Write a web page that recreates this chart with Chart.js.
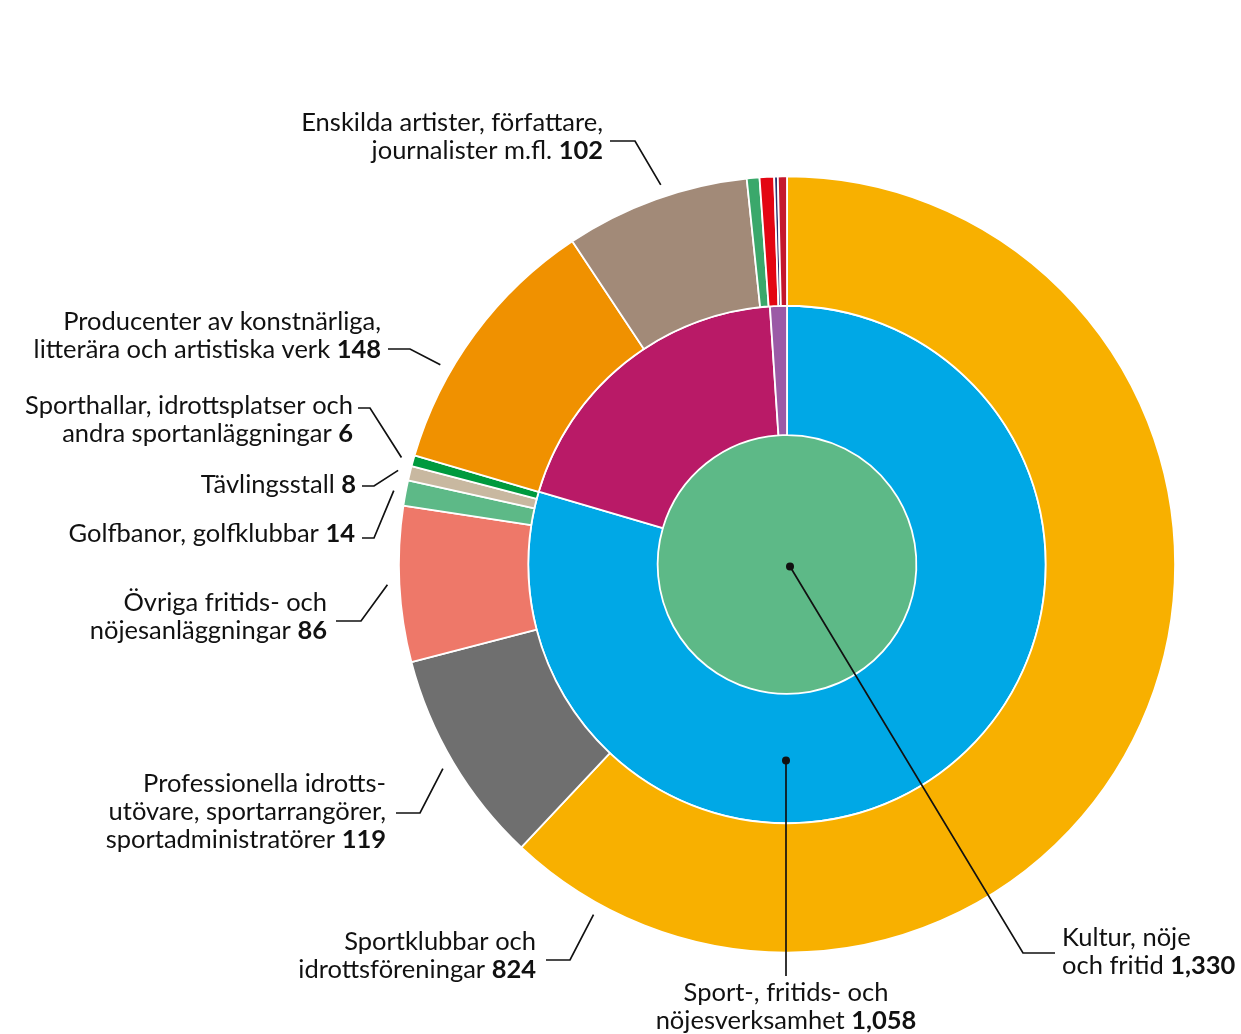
<!DOCTYPE html>
<html>
<head>
<meta charset="utf-8">
<script src="https://cdn.jsdelivr.net/npm/chart.js@4.4.1/dist/chart.umd.min.js"></script>
<style>
  html, body { margin: 0; padding: 0; background: #ffffff; }
  #wrap { width: 1241px; height: 1034px; position: relative; }
</style>
</head>
<body>
<div id="wrap"><canvas id="myChart" width="1241" height="1034"></canvas></div>
<script>
// outer ring: detailed branches
var outerLabels = ['Sportklubbar och idrottsföreningar', 'Professionella idrottsutövare, sportarrangörer, sportadministratörer',
  'Övriga fritids- och nöjesanläggningar', 'Golfbanor, golfklubbar', 'Tävlingsstall',
  'Sporthallar, idrottsplatser och andra sportanläggningar', 'Producenter av konstnärliga, litterära och artistiska verk',
  'Enskilda artister, författare, journalister m.fl.', 'Övrigt 1', 'Övrigt 2', 'Övrigt 3', 'Övrigt 4'];
var outerValues = [824, 119, 86, 14, 8, 6, 148, 102, 7, 8, 2, 5];
var outerColors = ['#f8b000', '#6f6f6f', '#ee7869', '#5db987', '#c8b8a0', '#009a3e', '#f09100',
  '#a28a78', '#3aa86b', '#e30613', '#2a3470', '#c4172c'];

// middle ring
var middleLabels = ['Sport-, fritids- och nöjesverksamhet', 'Kultur', 'Övrigt'];
var middleValues = [1058, 258, 14];
var middleColors = ['#00a8e6', '#b91a67', '#9b5aa6'];

// centre
var innerLabels = ['Kultur, nöje och fritid'];
var innerValues = [1330];
var innerColors = ['#5db987'];

var FONT = 'Lato, "Noto Sans", sans-serif';
var FS = 25.5;
var LH = 28;

// label boxes: ring (0 outer, 1 middle, 2 centre), slice, where on the slice the line ends
var notes = [
  { ring: 0, i: 7, frac: 0.55, lines: ['Enskilda artister, författare,', 'journalister m.fl.'], value: 102,
    align: 'right', x: 603, y: 131, hy: 141, hx: [610, 635] },
  { ring: 0, i: 6, frac: 0.34, lines: ['Producenter av konstnärliga,', 'litterära och artistiska verk'], value: 148,
    align: 'right', x: 381, y: 330, hy: 349, hx: [388, 410] },
  { ring: 0, i: 5, frac: 0.5, lines: ['Sporthallar, idrottsplatser och', 'andra sportanläggningar'], value: 6,
    align: 'right', x: 353, y: 414, hy: 408, hx: [358, 370] },
  { ring: 0, i: 4, frac: 0.5, lines: ['Tävlingsstall'], value: 8,
    align: 'right', x: 356, y: 493, hy: 486, hx: [362, 374] },
  { ring: 0, i: 3, frac: 0.5, lines: ['Golfbanor, golfklubbar'], value: 14,
    align: 'right', x: 355, y: 542, hy: 538, hx: [362, 374] },
  { ring: 0, i: 2, frac: 0.5, lines: ['Övriga fritids- och', 'nöjesanläggningar'], value: 86,
    align: 'right', x: 327, y: 611, hy: 621, hx: [336, 361] },
  { ring: 0, i: 1, frac: 0.5, lines: ['Professionella idrotts-', 'utövare, sportarrangörer,', 'sportadministratörer'], value: 119,
    align: 'right', x: 386, y: 792, hy: 813, hx: [396, 420] },
  { ring: 0, i: 0, frac: 0.936, lines: ['Sportklubbar och', 'idrottsföreningar'], value: 824,
    align: 'right', x: 536, y: 950, hy: 960, hx: [546, 570] },
  { ring: 1, i: 0, dot: 'below', lines: ['Sport-, fritids- och', 'nöjesverksamhet'], value: 1058,
    align: 'center', x: 786, y: 1001, hy: 976 },
  { ring: 2, i: 0, dot: 'centre', lines: ['Kultur, nöje', 'och fritid'], value: 1330,
    align: 'left', x: 1062, y: 946, hy: 953, hx: [1055, 1023] }
];

function drawNote(ctx, n, lastBold) {
  for (var k = 0; k < n.lines.length; k++) {
    var y = n.y + k * LH;
    var txt = n.lines[k];
    var bold = (k === n.lines.length - 1) ? lastBold : '';
    ctx.font = FS + 'px ' + FONT;
    var w1 = ctx.measureText(txt + (bold ? ' ' : '')).width;
    ctx.font = 'bold ' + FS + 'px ' + FONT;
    var w2 = bold ? ctx.measureText(bold).width : 0;
    var x0 = n.x;
    if (n.align === 'right') x0 = n.x - w1 - w2;
    if (n.align === 'center') x0 = n.x - (w1 + w2) / 2;
    ctx.textAlign = 'left';
    ctx.textBaseline = 'alphabetic';
    ctx.font = FS + 'px ' + FONT;
    ctx.fillText(txt, x0, y);
    if (bold) {
      ctx.font = 'bold ' + FS + 'px ' + FONT;
      ctx.fillText(bold, x0 + w1, y);
    }
  }
}

var notesPlugin = {
  id: 'notes',
  afterDraw: function(chart) {
    var ctx = chart.ctx;
    ctx.save();
    ctx.fillStyle = '#111111';
    ctx.strokeStyle = '#111111';
    ctx.lineWidth = 1.7;
    notes.forEach(function(n) {
      var arc = chart.getDatasetMeta(n.ring).data[n.i];
      var cx = arc.x, cy = arc.y;
      if (n.dot === 'below') {
        var r = (arc.innerRadius + arc.outerRadius) / 2;
        var px = cx - 1, py = cy + r + 2;
        ctx.beginPath(); ctx.arc(px, py, 4, 0, Math.PI * 2); ctx.fill();
        ctx.beginPath(); ctx.moveTo(px, py); ctx.lineTo(px, n.hy); ctx.stroke();
      } else if (n.dot === 'centre') {
        var qx = cx + 3, qy = cy + 2;
        ctx.beginPath(); ctx.arc(qx, qy, 4, 0, Math.PI * 2); ctx.fill();
        ctx.beginPath(); ctx.moveTo(qx, qy); ctx.lineTo(n.hx[1], n.hy); ctx.lineTo(n.hx[0], n.hy); ctx.stroke();
      } else {
        var a = arc.startAngle + n.frac * (arc.endAngle - arc.startAngle);
        var rr = arc.outerRadius + 12;
        ctx.beginPath();
        ctx.moveTo(n.hx[0], n.hy);
        ctx.lineTo(n.hx[1], n.hy);
        ctx.lineTo(cx + rr * Math.cos(a), cy + rr * Math.sin(a));
        ctx.stroke();
      }
      drawNote(ctx, n, n.value.toLocaleString('en-US'));
    });
    ctx.restore();
  }
};

const ctx = document.getElementById('myChart');

let chart = new Chart(ctx, {
  type: 'doughnut',
  data: {
    labels: outerLabels,
    datasets: [{
      label: 'Outer',
      data: outerValues,
      backgroundColor: outerColors,
      borderColor: '#ffffff',
      borderWidth: 1.8
    }, {
      label: 'Middle',
      data: middleValues,
      backgroundColor: middleColors,
      borderColor: '#ffffff',
      borderWidth: 1.8
    }, {
      label: 'Inner',
      data: innerValues,
      backgroundColor: innerColors,
      borderWidth: 0
    }]
  },
  options: {
    responsive: false,
    animation: false,
    cutout: 0,
    layout: { padding: { left: 398, right: 65, top: 175, bottom: 80 } },
    plugins: {
      legend: { display: false },
      tooltip: { enabled: false }
    }
  },
  plugins: [notesPlugin]
});
</script>
</body>
</html>
